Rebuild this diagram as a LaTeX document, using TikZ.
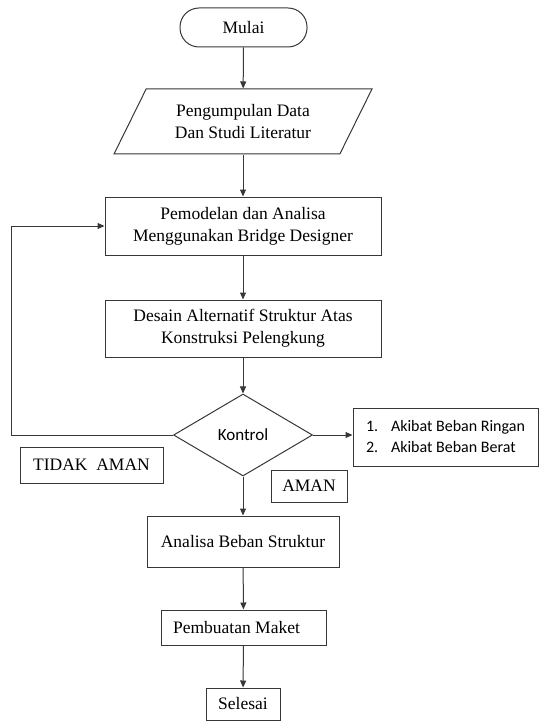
\documentclass[tikz,border=0pt]{standalone}
\usepackage{fontspec}
\setmainfont{Liberation Serif}
\newfontfamily\listfont{Carlito}
\usepackage{xcolor}
\usetikzlibrary{arrows.meta, positioning, shapes.geometric, calc}
\definecolor{lineg}{RGB}{55,55,55}

\begin{document}
\begin{tikzpicture}[x=1pt, y=-1pt,
  base/.style={draw=lineg, line width=1pt, align=center, inner sep=2pt,
    font=\fontsize{17.5}{22}\selectfont},
  procbox/.style={base, rectangle},
  termbox/.style={base, rectangle, rounded corners=19pt},
  iobox/.style={base, trapezium, trapezium left angle=50, trapezium right angle=130,
    trapezium stretches body},
  decbox/.style={base, diamond, inner sep=0pt, font=\listfont\fontsize{17}{21}\selectfont},
  arr/.style={draw=lineg, line width=1pt, -{Triangle[length=7pt, width=6pt]}}]
  \useasboundingbox (0,0) rectangle (541,722);
  % main flow
  \node[termbox, minimum width=127pt, minimum height=39pt] (mulai) at (243.5,27.5) {Mulai};
  \node[iobox, minimum width=258pt, minimum height=65pt] (data) at (243,121.5)
    {Pengumpulan Data\\Dan Studi Literatur};
  \node[procbox, minimum width=276pt, minimum height=58pt] (model) at (243,226)
    {Pemodelan dan Analisa\\Menggunakan Bridge Designer};
  \node[procbox, minimum width=276pt, minimum height=57pt] (desain) at (243,328.5)
    {Desain Alternatif Struktur Atas\\Konstruksi Pelengkung};
  \node[decbox, minimum width=139pt, minimum height=82pt] (kontrol) at (243,435) {Kontrol};
  \node[procbox, minimum width=192pt, minimum height=51pt] (analisa) at (243,541.5)
    {Analisa Beban Struktur};
  \node[procbox, minimum width=165pt, minimum height=35pt] (maket) at (243.5,627.5)
    {Pembuatan Maket\hspace*{14pt}};
  \node[procbox, minimum width=74pt, minimum height=32pt] (selesai) at (243,704) {Selesai};
  % side boxes
  \node[procbox, minimum width=185pt, minimum height=58pt, align=left,
    font=\listfont\fontsize{16}{21}\selectfont] (akibat) at (445.5,437)
    {\makebox[25pt][l]{1.}Akibat Beban Ringan\\\makebox[25pt][l]{2.}Akibat Beban Berat};
  \node[procbox, minimum width=143pt, minimum height=36pt] (tidak) at (91.5,465) {TIDAK\ \ AMAN};
  \node[procbox, minimum width=76pt, minimum height=32pt] (aman) at (309,486) {AMAN};
  \coordinate (back) at (11,435);
  % arrows
  \draw[arr] (mulai) -- (data);
  \draw[arr] (data) -- (model);
  \draw[arr] (model) -- (desain);
  \draw[arr] (desain) -- (kontrol);
  \draw[arr] (kontrol.east) -- (kontrol.east -| akibat.west);
  \draw[arr] (kontrol) -- (analisa);
  \draw[arr] (analisa) -- (maket);
  \draw[arr] (maket) -- (selesai);
  \draw[arr] (kontrol.west) -- (back) |- (model.west);
\end{tikzpicture}
\end{document}
